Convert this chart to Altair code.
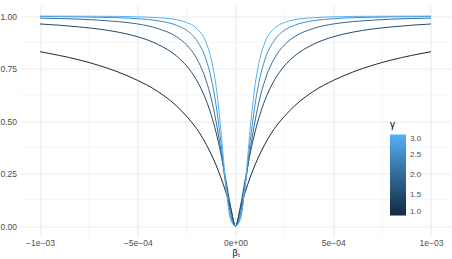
import altair as alt
import pandas as pd

# gamma values (colour)
gammas = [1.0, 1.5, 2.0, 2.5, 3.0]
# |beta_t| positions, in units of 1e-4 (curves are symmetric about 0)
offsets = [0, 0.25, 0.5, 0.75, 1, 1.25, 1.5, 2, 2.5, 3, 4, 5, 6, 7, 8, 9, 10]
# curve heights read at those positions
vals_g10 = [0, 0.084, 0.163, 0.231, 0.291, 0.343, 0.389, 0.465, 0.522, 0.570, 0.642, 0.693, 0.733, 0.765, 0.791, 0.812, 0.830]
vals_g15 = [0, 0.092, 0.223, 0.345, 0.448, 0.531, 0.598, 0.696, 0.762, 0.808, 0.866, 0.901, 0.923, 0.938, 0.948, 0.956, 0.962]
vals_g20 = [0, 0.059, 0.200, 0.360, 0.500, 0.610, 0.692, 0.800, 0.862, 0.900, 0.941, 0.962, 0.973, 0.980, 0.985, 0.988, 0.990]
vals_g25 = [0, 0.041, 0.196, 0.401, 0.579, 0.706, 0.791, 0.886, 0.932, 0.955, 0.978, 0.987, 0.992, 0.994, 0.996, 0.997, 0.998]
vals_g30 = [0, 0.031, 0.202, 0.461, 0.670, 0.798, 0.873, 0.942, 0.969, 0.982, 0.992, 0.996, 0.998, 0.9986, 0.999, 0.9993, 0.9995]
all_vals = [vals_g10, vals_g15, vals_g20, vals_g25, vals_g30]

x_ticks = [-0.001, -0.0005, 0.0, 0.0005, 0.001]
x_tick_labels = ["−1e−03", "−5e−04", "0e+00", "5e−04", "1e−03"]
x_minor = [-0.00075, -0.00025, 0.00025, 0.00075]
y_ticks = [0.0, 0.25, 0.5, 0.75, 1.0]
y_minor = [0.125, 0.375, 0.625, 0.875]
legend_values = [1.0, 1.5, 2.0, 2.5, 3.0]

rows = []
for g, vals in zip(gammas, all_vals):
    neg = [(-o * 1e-4, v) for o, v in zip(reversed(offsets[1:]), reversed(vals[1:]))]
    pos = [(o * 1e-4, v) for o, v in zip(offsets, vals)]
    for i, (x, v) in enumerate(neg + pos):
        rows.append({"beta": x, "val": v, "gamma": g, "i": i})
df = pd.DataFrame(rows)

label_expr = " : ".join(
    f"abs(datum.value - ({t})) < 1e-9 ? '{l}'" for t, l in zip(x_ticks, x_tick_labels)
) + " : ''"

xscale = alt.Scale(domain=[-0.0011, 0.0011], nice=False, zero=False)
yscale = alt.Scale(domain=[-0.05, 1.05], nice=False, zero=False)

FONT = "Liberation Sans"
GRID = "#EBEBEB"

xminor = alt.Chart(pd.DataFrame({"v": x_minor})).mark_rule(
    color=GRID, strokeWidth=0.55
).encode(x=alt.X("v:Q", scale=xscale))
yminor = alt.Chart(pd.DataFrame({"v": y_minor})).mark_rule(
    color=GRID, strokeWidth=0.55
).encode(y=alt.Y("v:Q", scale=yscale))

lines = alt.Chart(df).mark_line(strokeWidth=1.0, interpolate="monotone").encode(
    x=alt.X(
        "beta:Q",
        scale=xscale,
        title="βₜ",
        axis=alt.Axis(values=x_ticks, labelExpr=label_expr),
    ),
    y=alt.Y(
        "val:Q",
        scale=yscale,
        title=None,
        axis=alt.Axis(values=y_ticks, format=".2f"),
    ),
    color=alt.Color(
        "gamma:Q",
        title="γ",
        scale=alt.Scale(domain=[1, 3], range=["#132B43", "#56B1F7"], interpolate="lab"),
        legend=alt.Legend(
            orient="none",
            legendX=369.5,
            legendY=114,
            direction="vertical",
            gradientLength=81,
            gradientThickness=16,
            gradientStrokeWidth=0,
            values=legend_values,
            format=".1f",
            titleFontSize=10,
            titleFontWeight="normal",
            titleColor="#000000",
            titleFont=FONT,
            titlePadding=5,
            labelFontSize=8,
            labelColor="#4D4D4D",
            labelFont=FONT,
            labelOffset=4,
        ),
    ),
    detail="gamma:N",
    order="i:Q",
)

chart = (
    alt.layer(xminor, yminor, lines)
    .properties(
        width=430,
        height=231,
        autosize=alt.AutoSizeParams(type="none"),
        padding={"left": 20.5, "top": 5.5, "right": 1.5, "bottom": 22.5},
        background="white",
    )
    .configure_view(stroke=None)
    .configure_axis(
        domain=False,
        ticks=False,
        grid=True,
        gridColor=GRID,
        gridWidth=1.1,
        labelFont=FONT,
        labelFontSize=8.5,
        labelColor="#4D4D4D",
        titleFont=FONT,
        titleFontSize=9,
        titleFontWeight="normal",
        titleColor="#000000",
    )
    .configure_axisX(labelPadding=2, titlePadding=1)
    .configure_axisY(labelPadding=4)
)

chart.save("out.html", embed_options={"renderer": "svg", "actions": False})
